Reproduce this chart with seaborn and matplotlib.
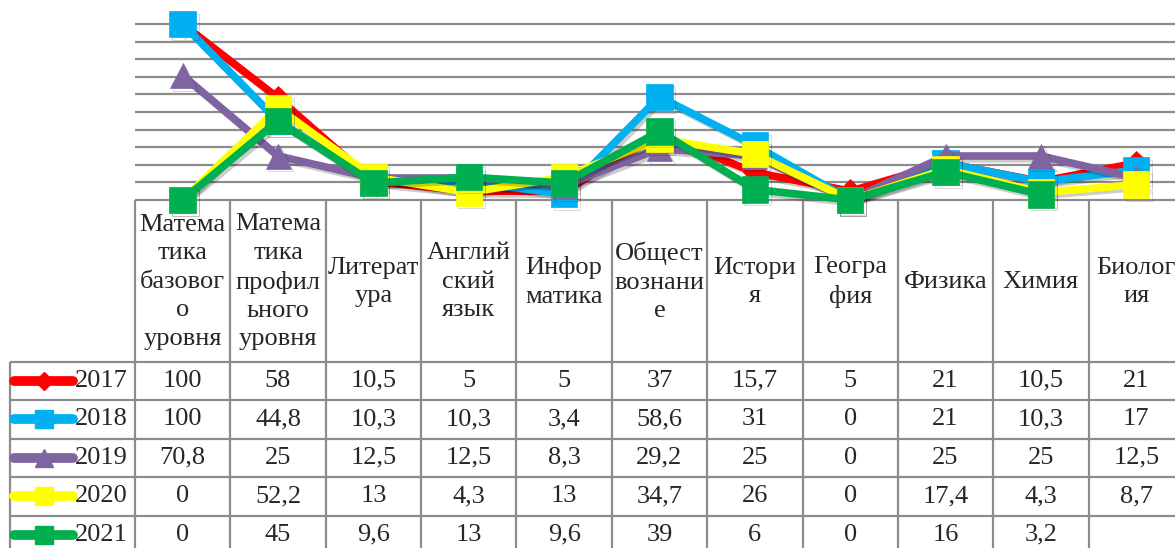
import numpy as np
import pandas as pd
import matplotlib
matplotlib.use("Agg")
import matplotlib.pyplot as plt
import matplotlib.patheffects as pe
import seaborn as sns

# ---------------- data ----------------
categories = ["Матема\nтика\nбазовог\nо\nуровня",
              "Матема\nтика\nпрофил\nьного\nуровня",
              "Литерат\nура", "Англий\nский\nязык", "Инфор\nматика",
              "Общест\nвознани\nе", "Истори\nя", "Геогра\nфия",
              "Физика", "Химия", "Биолог\nия"]
years = ["2017", "2018", "2019", "2020", "2021"]
v2017 = [100, 58, 10.5, 5, 5, 37, 15.7, 5, 21, 10.5, 21]
v2018 = [100, 44.8, 10.3, 10.3, 3.4, 58.6, 31, 0, 21, 10.3, 17]
v2019 = [70.8, 25, 12.5, 12.5, 8.3, 29.2, 25, 0, 25, 25, 12.5]
v2020 = [0, 52.2, 13, 4.3, 13, 34.7, 26, 0, 17.4, 4.3, 8.7]
v2021 = [0, 45, 9.6, 13, 9.6, 39, 6, 0, 16, 3.2, np.nan]
series = [v2017, v2018, v2019, v2020, v2021]

colors = ["#FF0000", "#00B0F0", "#8064A2", "#FFFF00", "#00B050"]
markers = ["D", "s", "^", "s", "s"]
msizes = [12.5, 19, 18, 19, 19]
leg_ms = [9, 13, 13, 13, 13]

sns.set_style("white")
plt.rcParams["font.family"] = ["Liberation Serif", "DejaVu Serif"]

# ---------------- geometry (px) ----------------
W, H = 1175, 548
n = len(categories)
plot_left, col_w = 135.0, 95.36
plot_right = plot_left + col_w * n
hdr_top, hdr_bot, row_h = 200.0, 361.7, 38.5
px_per_unit = 1.76
ytop = hdr_top / px_per_unit
grid_c = "#8c8c8c"
fs = 19

fig = plt.figure(figsize=(W / 100, H / 100), dpi=100)

# table axes in pixel coords
tax = fig.add_axes([0, 0, 1, 1])
tax.set_xlim(0, W)
tax.set_ylim(H, 0)
tax.axis("off")

# chart axes
ax = fig.add_axes([plot_left / W, 1 - hdr_top / H,
                   (plot_right - plot_left) / W, hdr_top / H])
ax.patch.set_alpha(0)
ax.set_xlim(-0.5, n - 0.5)
ax.set_ylim(0, ytop)
ax.set_yticks(np.arange(10, 101, 10))
ax.set_xticks([])
ax.grid(axis="y", color=grid_c, lw=1.6)
ax.set_axisbelow(True)
ax.tick_params(left=False, labelleft=False, bottom=False, labelbottom=False)
for s in ax.spines.values():
    s.set_visible(False)

shadow = [pe.SimpleLineShadow(offset=(2, -2), shadow_color="k", alpha=0.2),
          pe.Normal()]
xs = np.arange(n)
for yr, vals, c, m, ms in zip(years, series, colors, markers, msizes):
    df = pd.DataFrame({"x": xs, "y": vals})
    sns.lineplot(data=df, x="x", y="y", ax=ax, color=c, lw=5.5, marker=m,
                 markersize=ms, markeredgecolor=c, markeredgewidth=0.5,
                 estimator=None, sort=False, legend=False, clip_on=False,
                 path_effects=shadow)
ax.set_xlabel("")
ax.set_ylabel("")

# ---------------- table ----------------
col_edges = plot_left + col_w * np.arange(n + 1)
col_centers = plot_left + col_w * (np.arange(n) + 0.5)
row_edges = hdr_bot + row_h * np.arange(len(years) + 1)
leg_left = 10

tax.hlines(hdr_top, plot_left, W, color=grid_c, lw=1.6)
tax.hlines(row_edges, leg_left, W, color=grid_c, lw=1.6)
tax.vlines(col_edges, hdr_top, H, color=grid_c, lw=1.6)
tax.vlines(leg_left, hdr_bot, H, color=grid_c, lw=1.6)

for xc, lab in zip(col_centers, categories):
    tax.text(xc, (hdr_top + hdr_bot) / 2 + 1, lab, ha="center", va="center",
             multialignment="center", fontsize=fs, linespacing=1.38)


def fmt(v):
    if v is None or (isinstance(v, float) and np.isnan(v)):
        return ""
    return f"{v:g}".replace(".", ",")


for i, (yr, vals, c, m, lms) in enumerate(zip(years, series, colors, markers, leg_ms)):
    yc = (row_edges[i] + row_edges[i + 1]) / 2
    tax.plot([14, 73], [yc, yc], color=c, lw=7, solid_capstyle="round")
    tax.plot([43.5], [yc], marker=m, color=c, ms=lms, mec=c, ls="none")
    tax.text(75, yc, yr, ha="left", va="center", fontsize=fs)
    for xc, v in zip(col_centers, vals):
        tax.text(xc, yc, fmt(v), ha="center", va="center", fontsize=fs)

fig.savefig("out.png", dpi=100)
